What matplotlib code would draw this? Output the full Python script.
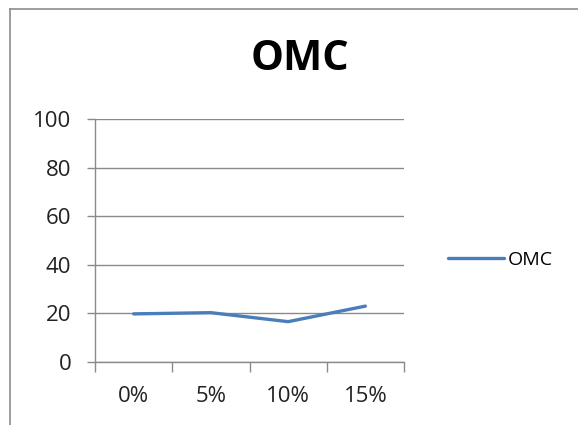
import matplotlib
matplotlib.use("Agg")
import matplotlib.pyplot as plt
from matplotlib.lines import Line2D
import numpy as np

categories = ["0%", "5%", "10%", "15%"]
omc_values = [19.8, 20.3, 16.6, 23.0]
y_ticks = [0, 20, 40, 60, 80, 100]
series_name = "OMC"
chart_title = "OMC"

plt.rcParams["font.family"] = ["Open Sans", "DejaVu Sans"]

W, H = 578, 425
fig = plt.figure(figsize=(W / 100, H / 100), dpi=100)
fig.patch.set_facecolor("white")

# chart frame (left and top edges visible)
fig.add_artist(Line2D([10 / W, 10 / W], [0, 1 - 9 / H], transform=fig.transFigure,
                      color="#8c8c8c", lw=1.2))
fig.add_artist(Line2D([10 / W, 1], [1 - 9 / H, 1 - 9 / H], transform=fig.transFigure,
                      color="#8c8c8c", lw=1.2))

left, right = 95 / W, 404 / W
bottom, top = 1 - 362 / H, 1 - 119 / H
ax = fig.add_axes([left, bottom, right - left, top - bottom])

x = np.arange(len(categories))
line, = ax.plot(x, omc_values, color="#4A7EBB", lw=2.4, solid_capstyle="round",
                label=series_name)

ax.set_xlim(-0.5, len(categories) - 0.5)
ax.set_ylim(0, 100)
ax.set_yticks(y_ticks)
ax.set_yticklabels([str(v) for v in y_ticks], fontsize=16, color="#222222")
ax.yaxis.grid(True, color="#8a8a8a", lw=1.0)
ax.set_axisbelow(True)

ax.set_xticks(x)
ax.set_xticklabels(categories, fontsize=16, color="#222222")
ax.set_xticks(np.arange(-0.5, len(categories)), minor=True)
ax.tick_params(axis="x", which="major", length=0, pad=17)
ax.tick_params(axis="x", which="minor", length=7, color="#8a8a8a", width=1.0)
ax.tick_params(axis="y", length=6, color="#8a8a8a", width=1.0, pad=11)

for s in ["top", "right"]:
    ax.spines[s].set_visible(False)
for s in ["left", "bottom"]:
    ax.spines[s].set_color("#8a8a8a")
    ax.spines[s].set_linewidth(1.0)

fig.text(300 / W, 1 - 59 / H, chart_title, fontsize=30, fontweight="bold",
         ha="center", va="center", color="black")

leg = fig.legend(handles=[line], loc="center left",
                 bbox_to_anchor=(430 / W, 1 - 260 / H), frameon=False,
                 fontsize=14, handlelength=2.9, handletextpad=0.2)

fig.savefig("out.png", dpi=100)
